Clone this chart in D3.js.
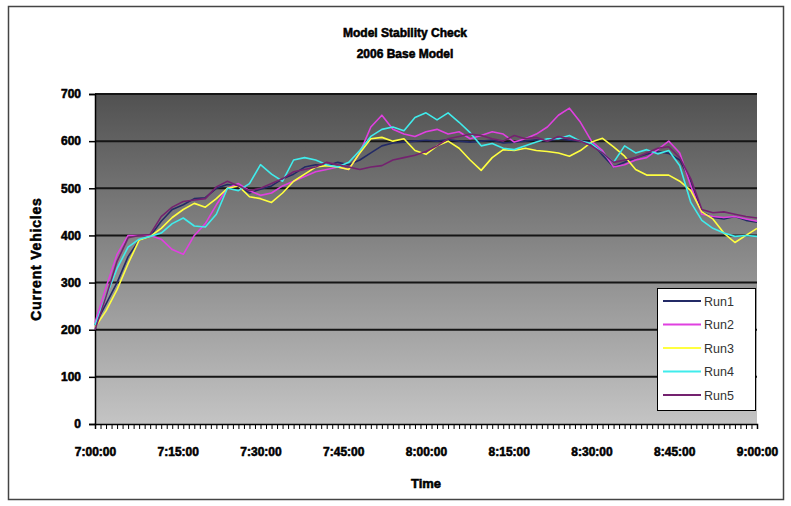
<!DOCTYPE html>
<html>
<head>
<meta charset="utf-8">
<script src="https://cdn.jsdelivr.net/npm/d3@7"></script>
<style>
  html, body { margin: 0; padding: 0; background: #fff; }
  svg { display: block; }
  text { font-family: "Liberation Sans", Arial, sans-serif; }
  .heavy { font-weight: bold; fill: #000; stroke: #000; stroke-width: 0.55px; }
</style>
</head>
<body>
<svg id="chart" width="791" height="506"></svg>
<script>
// Sample times, in minutes after 7:00:00 (one sample every two minutes)
const sampleMinutes = d3.range(0, 121, 2);

// Current vehicles in the network for each model run
const run1 = [210,255,300,355,390,398,430,455,465,478,480,500,508,505,490,498,505,520,530,545,550,548,555,550,560,575,590,596,598,600,602,600,603,600,598,600,602,596,598,600,603,600,605,602,600,598,570,545,555,565,572,578,574,560,515,450,438,435,440,432,428];
const run2 = [215,290,360,400,400,400,392,370,360,400,425,465,500,510,495,485,490,505,515,525,535,540,545,540,575,630,655,625,615,610,620,625,615,620,605,612,620,615,598,605,615,630,655,670,640,600,580,545,550,560,565,582,600,575,505,445,440,438,440,435,430];
const run3 = [205,240,285,340,390,398,415,438,455,468,460,478,500,505,482,478,470,490,515,530,545,548,545,540,575,605,608,600,605,580,572,590,600,585,560,538,565,582,580,585,580,578,575,568,580,598,606,588,568,540,528,528,528,515,495,450,435,405,385,400,415];
const run4 = [210,270,330,375,392,398,405,425,437,420,418,445,500,495,510,550,530,515,560,565,560,550,545,555,580,610,625,630,622,650,660,645,660,640,618,590,595,585,582,590,598,605,605,612,600,595,575,555,590,575,582,573,580,548,470,432,415,405,398,400,398];
const run5 = [200,270,345,395,400,402,440,460,472,475,478,503,515,505,495,500,510,520,535,540,545,555,550,545,540,545,548,560,565,570,578,590,605,610,615,612,605,600,612,605,608,600,610,605,600,590,575,555,560,565,575,585,588,565,520,455,448,450,445,440,437];

const seriesNames = ["Run1", "Run2", "Run3", "Run4", "Run5"];
const seriesValues = [run1, run2, run3, run4, run5];
const seriesColors = ["#232a66", "#e040e0", "#ffff40", "#40ecec", "#74226f"];

const yTicks = [0, 100, 200, 300, 400, 500, 600, 700];
const xTickLabels = ["7:00:00","7:15:00","7:30:00","7:45:00","8:00:00","8:15:00","8:30:00","8:45:00","9:00:00"];

const titleLines = ["Model Stability Check", "2006 Base Model"];
const xTitle = "Time";
const yTitle = "Current Vehicles";

const svg = d3.select("#chart");
const plot = { left: 95, right: 757, top: 94, bottom: 424 };

const startTime = new Date(2006, 0, 1, 7, 0, 0);
const toTime = m => d3.timeMinute.offset(startTime, m);

const x = d3.scaleTime()
  .domain([toTime(0), toTime(120)])
  .range([plot.left, plot.right]);
const y = d3.scaleLinear()
  .domain([0, 700])
  .range([plot.bottom, plot.top]);

// chart frame
svg.append("rect")
  .attr("x", 8.5).attr("y", 6.5)
  .attr("width", 775).attr("height", 493)
  .attr("fill", "#fff")
  .attr("stroke", "#444").attr("stroke-width", 1.5);

// plot background gradient, dark at top to light at bottom
const defs = svg.append("defs");
const grad = defs.append("linearGradient")
  .attr("id", "plotBg").attr("x1", 0).attr("y1", 0).attr("x2", 0).attr("y2", 1);
grad.append("stop").attr("offset", "0%").attr("stop-color", "#515151");
grad.append("stop").attr("offset", "100%").attr("stop-color", "#c4c4c4");

svg.append("rect")
  .attr("x", plot.left).attr("y", plot.top)
  .attr("width", plot.right - plot.left)
  .attr("height", plot.bottom - plot.top)
  .attr("fill", "url(#plotBg)");

// horizontal gridlines
svg.append("g")
  .selectAll("line")
  .data(yTicks.filter(d => d > 0))
  .join("line")
  .attr("x1", plot.left).attr("x2", plot.right)
  .attr("y1", d => y(d)).attr("y2", d => y(d))
  .attr("stroke", "#151515").attr("stroke-width", 2);

// y axis
const yAxis = svg.append("g")
  .attr("transform", `translate(${plot.left},0)`)
  .call(d3.axisLeft(y).tickValues(yTicks).tickSize(6).tickPadding(8));
yAxis.select(".domain").attr("stroke", "#000").attr("stroke-width", 1.5);
yAxis.selectAll(".tick line").attr("stroke", "#000").attr("stroke-width", 1.5);
yAxis.selectAll(".tick text")
  .attr("class", "heavy")
  .attr("font-size", 12);

// x axis: a tick every minute, a label every quarter hour
const labelFor = new Map(xTickLabels.map((s, i) => [i * 15, s]));
const xAxis = svg.append("g")
  .attr("transform", `translate(0,${plot.bottom})`)
  .call(d3.axisBottom(x)
    .ticks(d3.timeMinute.every(1))
    .tickSize(5)
    .tickPadding(18)
    .tickFormat(d => {
      const m = Math.round((d - startTime) / 60000);
      return labelFor.has(m) ? labelFor.get(m) : "";
    }));
xAxis.select(".domain").attr("stroke", "#000").attr("stroke-width", 1.5);
xAxis.selectAll(".tick line").attr("stroke", "#000").attr("stroke-width", 1);
xAxis.selectAll(".tick text")
  .attr("class", "heavy")
  .attr("font-size", 12);

// series lines
const line = d3.line()
  .x((d, i) => x(toTime(sampleMinutes[i])))
  .y(d => y(d));

svg.append("g")
  .selectAll("path")
  .data(seriesValues)
  .join("path")
  .attr("d", d => line(d))
  .attr("fill", "none")
  .attr("stroke", (d, i) => seriesColors[i])
  .attr("stroke-width", 1.6)
  .attr("stroke-linejoin", "round");

// titles
svg.append("g")
  .selectAll("text")
  .data(titleLines)
  .join("text")
  .attr("class", "heavy")
  .attr("x", 405)
  .attr("y", (d, i) => 37 + i * 21)
  .attr("text-anchor", "middle")
  .attr("font-size", 12)
  .text(d => d);

svg.append("text")
  .attr("class", "heavy")
  .attr("x", (plot.left + plot.right) / 2)
  .attr("y", 488)
  .attr("text-anchor", "middle")
  .attr("font-size", 13)
  .text(xTitle);

svg.append("text")
  .attr("class", "heavy")
  .attr("transform", `translate(41,${(plot.top + plot.bottom) / 2}) rotate(-90)`)
  .attr("text-anchor", "middle")
  .attr("font-size", 14)
  .attr("letter-spacing", 0.8)
  .text(yTitle);

// legend
const legend = svg.append("g").attr("transform", "translate(657,288)");
legend.append("rect")
  .attr("x", 0.5).attr("y", 0.5)
  .attr("width", 98).attr("height", 122)
  .attr("fill", "#fff").attr("stroke", "#000").attr("stroke-width", 1);
const items = legend.selectAll("g.item")
  .data(seriesNames)
  .join("g")
  .attr("class", "item")
  .attr("transform", (d, i) => `translate(0,${13 + i * 23.5})`);
items.append("line")
  .attr("x1", 6).attr("x2", 44)
  .attr("stroke", (d, i) => seriesColors[i])
  .attr("stroke-width", 2);
items.append("text")
  .attr("x", 47).attr("y", 4.5)
  .attr("font-size", 12.5)
  .attr("fill", "#333")
  .text(d => d);
</script>
</body>
</html>
